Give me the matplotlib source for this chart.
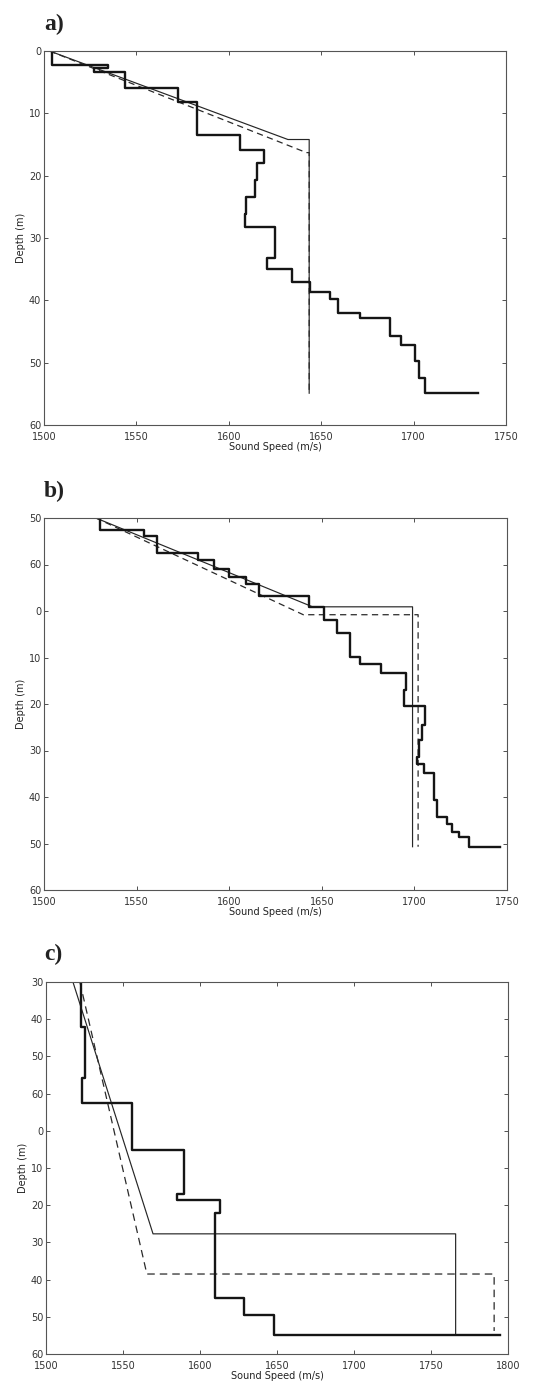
import matplotlib.pyplot as plt

# ---- panel a) ----
a_depth = [0, 2.3, 2.8, 3.4, 6.0, 8.2, 13.5, 15.9, 17.9, 20.7, 23.4, 26.2, 28.2,
           33.2, 34.9, 37.1, 38.7, 39.8, 42.1, 42.9, 45.7, 47.2, 49.7, 52.4, 54.9]
a_speed = [1504.5, 1534.7, 1527, 1543.7, 1572.5, 1583, 1606, 1619, 1615, 1614,
           1609.5, 1608.5, 1625, 1620.5, 1634, 1644, 1654.8, 1659, 1671, 1687,
           1693, 1700.5, 1703, 1706]
a_speed_end = 1735
a_fit_speed = [1503, 1632, 1643.5, 1643.5]
a_fit_depth = [0, 14.2, 14.2, 54.9]
a_alt_speed = [1503, 1642, 1643.5, 1643.5]
a_alt_depth = [0, 16.3, 16.3, 54.9]
a_yticks = [0, 10, 20, 30, 40, 50, 60]
a_ylabels = ['0', '10', '20', '30', '40', '50', '60']

# ---- panel b) ----
b_depth = [0, 2.6, 3.9, 7.6, 9.1, 11.0, 12.6, 14.3, 16.8, 19.1, 22.0, 24.8, 29.8,
           31.3, 33.3, 37.0, 40.4, 44.5, 47.8, 51.3, 52.8, 54.9, 60.6, 64.2,
           65.7, 67.5, 68.5, 70.7]
b_speed = [1530, 1554, 1561, 1583, 1592, 1600, 1609, 1616, 1643, 1651, 1658.3,
           1665, 1670.4, 1681.7, 1695.3, 1694.4, 1705.7, 1703.9, 1702.5, 1701.6,
           1705.2, 1710.6, 1712.4, 1717.8, 1720.5, 1724.1, 1729.5]
b_speed_end = 1746
b_fit_speed = [1528, 1645, 1699, 1699]
b_fit_depth = [0, 19.1, 19.1, 70.7]
b_alt_speed = [1528, 1640, 1702, 1702]
b_alt_depth = [0, 20.8, 20.8, 70.7]
b_yticks = [0, 10, 20, 30, 40, 50, 60, 70, 80]
b_ylabels = ['50', '60', '0', '10', '20', '30', '40', '50', '60']

# ---- panel c) ----
c_depth = [0, 12.1, 25.7, 32.6, 45.2, 57.0, 58.7, 62.1, 85.0, 89.5, 94.9]
c_speed = [1522.5, 1525.5, 1523.3, 1555.8, 1589.8, 1584.8, 1613.3, 1609.5,
           1628.3, 1648.2]
c_speed_end = 1794.5
c_fit_speed = [1517.5, 1569.5, 1766, 1766]
c_fit_depth = [0, 67.7, 67.7, 94.9]
c_alt_speed = [1522, 1565.5, 1791, 1791]
c_alt_depth = [0, 78.5, 78.5, 93.8]
c_yticks = [0, 10, 20, 30, 40, 50, 60, 70, 80, 90, 100]
c_ylabels = ['30', '40', '50', '60', '0', '10', '20', '30', '40', '50', '60']


def stairs(depth, speed, end):
    xs, ys = [], []
    for i, s in enumerate(speed):
        xs += [s, s]
        ys += [depth[i], depth[i + 1]]
    xs.append(end)
    ys.append(depth[-1])
    return xs, ys


def panel(ax, depth, speed, end, fit_x, fit_y, alt_x, alt_y,
          xmax, ymax, yticks, ylabels, dash=(5, 3.5)):
    xs, ys = stairs(depth, speed, end)
    ax.plot(fit_x, fit_y, '-', color='#262626', lw=0.85)
    ax.plot(alt_x, alt_y, '--', color='#2a2a2a', lw=0.9, dashes=dash)
    ax.plot(xs, ys, '-', color='#151515', lw=1.7)
    ax.set_xlim(1500, xmax)
    ax.set_ylim(ymax, 0)
    ax.set_xticks(list(range(1500, xmax + 1, 50)))
    ax.set_yticks(yticks)
    ax.set_yticklabels(ylabels)
    ax.tick_params(direction='in', top=True, right=True, length=3, width=0.6,
                   labelsize=7, pad=2, colors='#333333')
    ax.tick_params(axis='x', pad=5)
    for sp in ax.spines.values():
        sp.set_color('#555555')
        sp.set_linewidth(0.8)
    ax.set_xlabel('Sound Speed (m/s)', fontsize=7, labelpad=0, color='#222222')
    ax.set_ylabel('Depth (m)', fontsize=7, labelpad=2, color='#222222')


fig = plt.figure(figsize=(5.36, 13.88), dpi=100)
W, H = 536.0, 1388.0

ax_a = fig.add_axes([44 / W, 1 - 425 / H, 462 / W, 374 / H])
ax_b = fig.add_axes([44 / W, 1 - 890 / H, 463 / W, 372 / H])
ax_c = fig.add_axes([46 / W, 1 - 1354 / H, 462 / W, 372 / H])

panel(ax_a, a_depth, a_speed, a_speed_end, a_fit_speed, a_fit_depth,
      a_alt_speed, a_alt_depth, 1750, 60, a_yticks, a_ylabels)
panel(ax_b, b_depth, b_speed, b_speed_end, b_fit_speed, b_fit_depth,
      b_alt_speed, b_alt_depth, 1750, 80, b_yticks, b_ylabels)
panel(ax_c, c_depth, c_speed, c_speed_end, c_fit_speed, c_fit_depth,
      c_alt_speed, c_alt_depth, 1800, 100, c_yticks, c_ylabels, dash=(6, 4))

for lab, ypx in [('a)', 30), ('b)', 497), ('c)', 960)]:
    fig.text(44 / W, 1 - ypx / H, lab, fontsize=17, fontweight='bold',
             family='Liberation Serif', va='baseline', ha='left', color='#222222')

fig.savefig('out.png', dpi=100)
